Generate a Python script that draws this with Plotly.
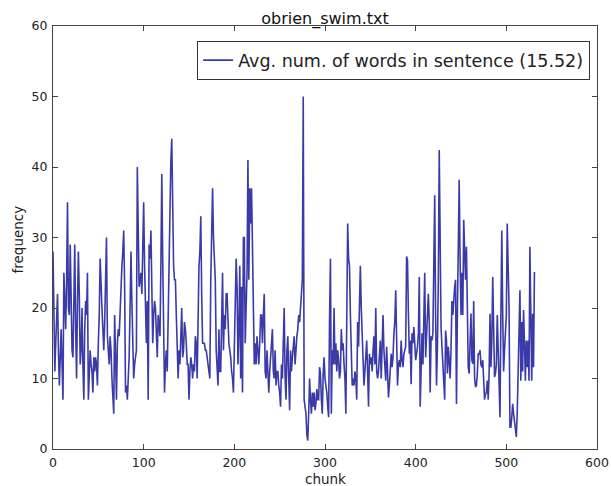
import plotly.graph_objects as go

title_text = "obrien_swim.txt"
series_name = "Avg. num. of words in sentence (15.52)"
x_label = "chunk"
y_label = "frequency"
x_ticks = [0, 100, 200, 300, 400, 500, 600]
y_ticks = [0, 10, 20, 30, 40, 50, 60]

words_per_sentence = [
    28, 17, 11, 15, 18, 22, 14, 9, 13, 17,
    12, 7, 25, 21, 17, 24, 35, 20, 19, 29,
    22, 14, 13, 21, 29, 17, 10, 21, 28, 22,
    12, 14, 20, 12, 7, 17, 21, 19, 25, 7,
    10, 14, 12, 11, 8, 13, 11, 13, 12, 9,
    15, 19, 27, 22, 20, 17, 14, 18, 24, 30,
    16, 13, 12, 16, 14, 10, 8, 5, 19, 11,
    7, 15, 17, 16, 20, 23, 26, 28, 31, 23,
    8, 9, 7, 10, 13, 20, 28, 21, 14, 10,
    12, 13, 14, 40, 30, 23, 24, 25, 22, 30,
    35, 26, 18, 15, 21, 7, 29, 27, 31, 19,
    15, 19, 21, 20, 17, 13, 19, 17, 16, 26,
    39, 27, 18, 8, 12, 14, 11, 19, 30, 39,
    41, 44, 33, 26, 24, 24, 19, 15, 10, 14,
    12, 16, 20, 13, 14, 18, 17, 15, 12, 12,
    7, 11, 13, 12, 10, 12, 11, 16, 15, 10,
    22, 26, 28, 33, 22, 15, 15, 15, 14, 14,
    13, 12, 11, 10, 24, 34, 37, 30, 26, 24,
    14, 11, 9, 17, 11, 11, 17, 25, 14, 19,
    17, 22, 22, 17, 15, 14, 13, 11, 10, 8,
    14, 19, 27, 23, 12, 17, 26, 10, 23, 8,
    30, 30, 15, 20, 25, 41, 24, 37, 32, 37,
    28, 22, 12, 15, 12, 16, 13, 12, 15, 19,
    19, 15, 19, 22, 11, 10, 14, 10, 8, 11,
    13, 16, 17, 11, 10, 14, 9, 11, 11, 9,
    8, 6, 12, 10, 14, 20, 10, 7, 14, 16,
    10, 5.5, 14, 11, 13, 15, 16, 12, 15, 16,
    17, 19, 18, 20, 23, 24, 50, 7, 6, 5,
    2, 1.2, 5, 10, 7, 5, 8, 6, 8, 5.5,
    6.5, 8.5, 7, 7, 11.6, 10.7, 7, 5, 10.7, 13,
    10, 9, 8, 6, 4.5, 18, 27, 5, 14, 12,
    20, 12, 15, 11, 14, 12.6, 10, 11, 17, 14,
    15, 12, 10, 5, 18, 32, 27, 26, 19, 12,
    9, 10, 9, 11, 10, 7, 18, 14.5, 20, 26,
    20, 17, 12, 9, 11, 13.5, 15.4, 11, 6, 13.5,
    12, 13, 11, 14, 16, 12, 20, 11, 10, 11,
    14, 15.4, 10, 16, 19, 14, 12, 9.7, 14.5, 9,
    7.3, 9, 10.7, 13.5, 11.6, 13, 16.4, 18, 22.5, 12.6,
    9, 12, 12.6, 11.6, 15.4, 12.6, 11.6, 13.5, 14, 14.5,
    27.3, 26.8, 19.2, 13.5, 15.4, 9.2, 16.4, 15, 17.3, 14,
    12.6, 13.5, 14.5, 16.4, 24.4, 6, 13.5, 16.4, 12, 22,
    25, 13, 17, 20, 22, 18, 8, 16, 15.4, 16.4,
    28, 36, 19, 9, 14.5, 24, 42.4, 24, 17.3, 14.5,
    12, 9, 7, 16.8, 15.4, 10.7, 14.5, 12.6, 10, 14,
    21, 19, 22, 23, 24, 6.4, 19, 26, 38.2, 27,
    19, 25, 19, 32.5, 27, 24, 28.7, 15.4, 11.6, 10.7,
    16.4, 19.2, 12.6, 12.1, 21, 10, 8.8, 9, 10.7, 13.5,
    13.5, 14, 12, 11.6, 12.6, 8.8, 7, 7.8, 8, 9.7,
    7, 10.7, 19.2, 11.6, 15.4, 24.4, 14, 10.2, 10.7, 12,
    19, 12.6, 9, 4.5, 19, 31, 19, 11, 14, 17,
    19, 32, 26, 20, 3.1, 3.1, 4.5, 6.4, 5, 3.6,
    2.5, 1.7, 5, 9.7, 14, 22.5, 9.7, 18, 11, 19.7,
    15, 9.7, 15.4, 11.6, 15.4, 9.7, 28.7, 19, 9.7, 19.2,
    11.6, 25.1,
]
chunks = list(range(len(words_per_sentence)))

FONT = "DejaVu Sans"
TXT = "#222222"
W, H = 611, 486
# plot area in page pixels: x 53..597, y 26..449
ML, MT, MR, MB = 53, 26, W - 597, H - 449

fig = go.Figure()
fig.add_trace(go.Scatter(
    x=chunks, y=words_per_sentence, mode="lines", name=series_name,
    line=dict(color="#3a3aa8", width=1.6),
))

axis_common = dict(
    showline=True, linecolor="#444444", linewidth=1.3, mirror="ticks",
    ticks="inside", ticklen=5, tickcolor="#444444", tickwidth=1,
    showgrid=False, zeroline=False, automargin=False,
    tickfont=dict(family=FONT, size=12.5, color=TXT),
)
fig.update_xaxes(range=[0, 600], tickvals=x_ticks, ticklabelstandoff=2, **axis_common)
fig.update_yaxes(range=[0, 60], tickvals=y_ticks, ticklabelstandoff=2, **axis_common)

fig.add_annotation(text=x_label, xref="paper", yref="paper", x=0.5, y=0,
                   xanchor="center", yanchor="middle", yshift=-30, showarrow=False,
                   font=dict(family=FONT, size=13.5, color=TXT))
fig.add_annotation(text=y_label, xref="paper", yref="paper", x=0, y=0.5,
                   xanchor="center", yanchor="middle", xshift=-36, yshift=-2,
                   textangle=-90, showarrow=False,
                   font=dict(family=FONT, size=13.5, color=TXT))

fig.update_layout(
    width=W, height=H,
    margin=dict(l=ML, r=MR, t=MT, b=MB),
    paper_bgcolor="white", plot_bgcolor="white",
    title=dict(text=title_text, x=325 / W, xanchor="center",
               y=1 - 18 / H, yanchor="middle",
               font=dict(family=FONT, size=16, color="#111111")),
    showlegend=True,
    legend=dict(x=0.987, xanchor="right", y=0.9645, yanchor="top",
                bgcolor="white", bordercolor="#333333", borderwidth=1.2,
                itemwidth=30, tracegroupgap=0,
                font=dict(family=FONT, size=17.5, color=TXT)),
)
fig.write_html("out.html", config={"displayModeBar": False},
               post_script="document.body.style.margin='0';")
